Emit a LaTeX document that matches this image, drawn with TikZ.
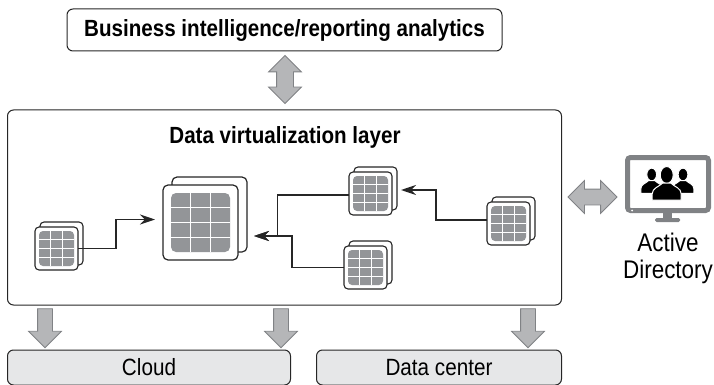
\documentclass[tikz,border=0pt]{standalone}
\usepackage{fontspec}
\setmainfont[FakeStretch=0.88]{Liberation Sans}
\usetikzlibrary{shapes.arrows, arrows.meta, positioning, calc, shadows}
\definecolor{cellgray}{HTML}{939598}
\definecolor{arrowgray}{HTML}{B5B6B8}
\definecolor{edgegray}{HTML}{808285}
\definecolor{storefill}{HTML}{E6E7E8}

% grey cells of a table, #1 is the margin inside the node
\newcommand{\tablecells}[1]{
    \coordinate (g1) at ([shift={(#1,#1)}]path picture bounding box.north west);
    \coordinate (g2) at ([shift={(-#1,-#1)}]path picture bounding box.south east);
    \fill [cellgray] (g1) rectangle (g2);
    \foreach \f in {0.333,0.667}
        \draw [white, line width=0.8pt] ($(g1)!\f!(g1 -| g2)$) -- ($(g1 |- g2)!\f!(g2)$);
    \foreach \f in {0.25,0.5,0.75}
        \draw [white, line width=0.8pt] ($(g1)!\f!(g1 |- g2)$) -- ($(g1 -| g2)!\f!(g2)$);
}

\begin{document}
\begin{tikzpicture}[x=1pt, y=-1pt, node distance=26pt, outer sep=0pt,
    person/.pic={
        \filldraw [draw=white, line width=1pt] (0,0) ellipse [x radius=6.5, y radius=8.5];
        \filldraw [draw=white, line width=1pt] (-14.5,25) -- (-14.5,19) .. controls (-14.5,13) and (-8,12) .. (-4,8)
            -- (4,8) .. controls (8,12) and (14.5,13) .. (14.5,19) -- (14.5,25) -- cycle;
    }]
    % Styles
    \tikzstyle{box} = [rectangle, draw=black!85, line width=1pt, rounded corners=6pt, align=center]
    \tikzstyle{store} = [box, fill=storefill, minimum height=35pt, text height=20pt, text depth=5pt, font=\fontsize{23.5}{28}\selectfont]
    \tikzstyle{bigtable} = [draw=black!85, line width=1.2pt, fill=white, rounded corners=5pt, minimum size=75pt,
        copy shadow={shadow xshift=9pt, shadow yshift=8pt}, path picture={\tablecells{8}}]
    \tikzstyle{smalltable} = [draw=black!85, line width=1.1pt, fill=white, rounded corners=4pt, minimum size=43pt,
        copy shadow={shadow xshift=5pt, shadow yshift=5pt}, path picture={\tablecells{4}}]
    \tikzstyle{line} = [draw, line width=1.4pt, black!85, -{Stealth[length=15pt, width=10pt, inset=5pt]}]
    \tikzstyle{updown} = [double arrow, shape border rotate=90, draw=edgegray, fill=arrowgray, line width=0.8pt, inner sep=8pt, double arrow head extend=8pt, minimum height=48pt]
    \tikzstyle{leftright} = [double arrow, draw=edgegray, fill=arrowgray, line width=0.8pt, inner sep=7.5pt, double arrow head extend=8.5pt, minimum height=49pt]
    \tikzstyle{down} = [single arrow, shape border rotate=270, draw=edgegray, fill=arrowgray, line width=0.8pt, inner sep=7pt, single arrow head extend=9pt, minimum height=39pt]

    \useasboundingbox (0,0) rectangle (714,385);

    % Nodes
    \node [box, minimum width=435pt, minimum height=42pt, text height=19pt, text depth=5pt, font=\fontsize{23.4}{28}\bfseries\selectfont] (bi) at (284.5,30) {Business intelligence/reporting analytics};
    \node [box, minimum width=554pt, minimum height=195pt, below=59pt of bi] (layer) {};
    \node [font=\fontsize{23.4}{28}\bfseries\selectfont] (title) at (285,137) {Data virtualization layer};
    \node [store, minimum width=283pt, below right=45pt and 0pt of layer.south west] (cloud) {Cloud};
    \node [store, minimum width=245pt, right=of cloud] (dc) {Data center};

    % Tables
    \node [bigtable] (tabBig) at (200.5,222.5) {};
    \node [smalltable] (tabA) at (56.5,248.5) {};
    \node [smalltable] (tabB) at (370.5,193.5) {};
    \node [smalltable] (tabC) at (365.5,267.5) {};
    \node [smalltable] (tabD) at (508.5,223.5) {};

    % Block arrows
    \node [updown] (arrowBi) at (285,79.5) {};
    \node [down] (arrowA) at (45,324.5) {};
    \node [down] (arrowB) at (281,324.5) {};
    \node [down] (arrowC) at (528,324.5) {};
    \node [leftright] (arrowAd) at (592.5,197) {};

    % Monitor
    \fill [edgegray] (663,212) rectangle (672,219);
    \fill [edgegray, rounded corners=1.5pt] (655,218) rectangle (680,222);
    \node [draw=edgegray, line width=5pt, fill=white, rounded corners=3pt, minimum width=81pt, minimum height=53pt] (monitor) at (668,184) {};
    \fill [white] (632,210.5) circle (1pt);
    \pic [scale=0.75] at (651.7,174.5) {person};
    \pic [scale=0.75] at (683,174.5) {person};
    \pic at (666.7,175) {person};
    \node [below=19pt of monitor, align=center, font=\fontsize{25.5}{27}\selectfont] (ad) {Active\\Directory};

    % Paths
    \path [line, shorten >=8pt] (tabA.east) -- ++(38,0) |- ([yshift=3pt]tabBig.west);
    \path [line, shorten >=16pt] ([yshift=-1.5pt]tabB.west) -- ++(-71.5,0) |- ([yshift=-13.5pt]tabBig.east);
    \path [line, shorten >=16pt] (tabC.west) -- ++(-52,0) |- ([yshift=-13.5pt]tabBig.east);
    \path [line, shorten >=9pt] ([yshift=3.5pt]tabD.west) -- ++(-51,0) |- ([yshift=3.5pt]tabB.east);
\end{tikzpicture}
\end{document}
